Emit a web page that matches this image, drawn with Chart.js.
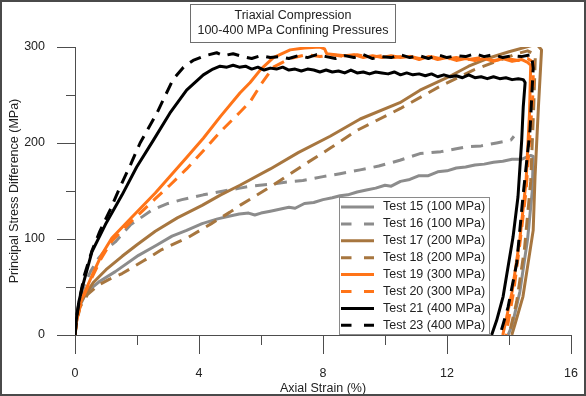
<!DOCTYPE html>
<html>
<head>
<meta charset="utf-8">
<script src="https://cdn.jsdelivr.net/npm/chart.js@4.4.1/dist/chart.umd.min.js"></script>
<style>
  html, body { margin: 0; padding: 0; background: #fff; }
  #wrap { width: 586px; height: 396px; }
</style>
</head>
<body>
<div id="wrap"><canvas id="triaxialChart" width="586" height="396"></canvas></div>
<script>
// strain (%) , stress difference (MPa)
const test15 = [[0,0],[0.05,14],[0.15,30],[0.3,40],[0.5,48],[0.8,56],[1.3,66],[2.05,83],[2.6,93],[3.13,103],[3.6,109],[4.1,116],[4.6,121],[5.0,124],[5.3,126],[5.6,127],[5.8,125],[6.0,127],[6.3,129],[6.6,131],[6.9,133],[7.1,132],[7.4,137],[7.7,138],[8.0,141],[8.3,143],[8.55,145],[8.8,146],[9.1,149],[9.4,151],[9.7,153],[10.0,156],[10.2,155],[10.5,160],[10.8,162],[11.1,166],[11.4,166],[11.7,170],[12.0,171],[12.3,174],[12.6,175],[12.9,177],[13.2,178],[13.5,180],[13.8,181],[14.1,183],[14.4,183],[14.7,187],[14.78,186],[14.75,150],[14.6,100],[14.35,45],[14.1,10],[13.97,0]];
const test16 = [[0,0],[0.05,16],[0.15,35],[0.3,52],[0.5,66],[0.76,80],[1.0,89],[1.3,97],[1.8,115],[2.48,130],[3.0,137],[3.45,141],[4.14,146],[4.8,150],[5.32,153],[5.65,155],[6.3,157],[7.0,160],[7.35,161],[8.0,165],[8.55,168],[9.2,172],[9.8,176],[10.48,182],[11.13,189],[11.8,191],[12.3,194],[12.63,196],[13.1,197],[13.6,200],[14.06,203],[14.16,207]];
const test17 = [[0,0],[0.05,16],[0.15,32],[0.33,42],[0.6,55],[1.0,68],[1.52,82],[2.0,94],[2.59,108],[3.3,122],[4.1,135],[4.7,146],[5.32,156],[6.3,173],[7.2,190],[8.23,207],[9.2,225],[10.48,242],[11.13,255],[12.0,268],[12.7,280],[13.3,288],[14.0,295],[14.89,303],[15.05,297],[14.95,238],[14.84,165],[14.78,109],[14.45,40],[14.2,12],[14.09,0]];
const test18 = [[0,0],[0.05,12],[0.16,29],[0.4,42],[0.76,52],[1.1,58],[1.52,64],[2.2,77],[2.8,89],[3.67,102],[4.4,116],[5.0,128],[5.32,135],[6.29,154],[7.47,179],[8.3,196],[9.09,213],[10.5,236],[11.77,259],[12.85,276],[13.6,285],[14.25,293],[14.6,296],[14.85,292],[14.8,240],[14.7,160],[14.5,90],[14.25,35],[14.0,0]];
const test19 = [[0,0],[0.05,14],[0.2,36],[0.55,62],[0.85,83],[1.19,101],[1.84,123],[2.59,148],[3.06,165],[3.6,185],[4.14,205],[4.7,228],[5.32,252],[5.65,263],[6.0,277],[6.4,289],[6.94,297],[7.4,299],[7.9,300],[8.05,298],[8.12,293],[8.4,292],[8.7,291],[9.0,292],[9.3,289],[9.6,291],[9.9,289],[10.2,291],[10.5,289],[10.8,290],[11.1,287],[11.4,290],[11.7,287],[12.0,289],[12.3,286],[12.6,288],[12.9,286],[13.2,288],[13.5,285],[13.8,288],[14.1,285],[14.4,287],[14.6,284],[14.7,281],[14.66,230],[14.55,160],[14.35,100],[14.1,45],[13.8,0]];
const test20 = [[0,0],[0.05,14],[0.2,35],[0.55,60],[0.85,80],[1.19,98],[1.84,119],[2.59,142],[3.06,156],[3.6,173],[4.14,192],[4.7,212],[5.32,232],[5.65,243],[6.02,262],[6.4,279],[6.94,288],[7.47,292],[7.9,290],[8.3,292],[8.7,290],[9.1,292],[9.5,289],[9.9,291],[10.3,289],[10.7,291],[11.1,288],[11.5,290],[11.9,287],[12.3,289],[12.7,287],[13.1,289],[13.5,286],[13.9,288],[14.3,286],[14.6,288],[14.78,284],[14.78,255],[14.68,210],[14.55,150],[14.35,95],[14.15,45],[13.9,0]];
const test21 = [[0,0],[0.05,18],[0.12,34],[0.23,49],[0.55,87],[0.98,115],[1.52,146],[1.99,175],[2.53,203],[3.06,231],[3.6,255],[4.14,271],[4.45,277],[4.68,280],[4.9,279],[5.1,281],[5.3,279],[5.5,280],[5.7,277],[5.9,279],[6.1,276],[6.3,278],[6.5,277],[6.7,279],[6.9,276],[7.1,277],[7.3,275],[7.5,277],[7.7,276],[7.9,274],[8.1,276],[8.3,274],[8.5,275],[8.7,273],[8.9,276],[9.1,273],[9.3,274],[9.5,272],[9.7,274],[9.9,273],[10.1,272],[10.3,274],[10.5,271],[10.7,273],[10.9,271],[11.1,272],[11.3,270],[11.5,272],[11.7,269],[11.9,271],[12.1,269],[12.3,270],[12.5,268],[12.7,271],[12.9,268],[13.1,269],[13.3,267],[13.5,269],[13.7,267],[13.9,268],[14.1,266],[14.3,267],[14.46,266],[14.52,263],[14.46,238],[14.41,203],[14.29,144],[14.13,102],[13.81,40],[13.6,15],[13.44,0]];
const test23 = [[0,0],[0.05,18],[0.15,38],[0.3,62],[0.55,88],[0.8,108],[1.13,130],[1.45,154],[1.8,178],[2.1,200],[2.64,231],[3.16,266],[3.5,279],[3.81,286],[4.2,291],[4.57,294],[4.8,291],[5.1,293],[5.42,290],[5.7,288],[6.0,291],[6.3,289],[6.6,290],[6.9,288],[7.2,291],[7.5,289],[7.8,292],[8.1,290],[8.4,288],[8.7,291],[9.0,289],[9.3,292],[9.6,288],[9.9,290],[10.2,289],[10.5,292],[10.8,289],[11.1,291],[11.4,288],[11.7,292],[12.0,289],[12.3,291],[12.6,290],[12.9,293],[13.2,290],[13.5,292],[13.8,289],[14.1,291],[14.4,290],[14.73,292],[14.78,278],[14.68,214],[14.45,144],[14.25,75],[13.97,29],[13.71,0]];

const testLabels = ['Test 15 (100 MPa)', 'Test 16 (100 MPa)', 'Test 17 (200 MPa)', 'Test 18 (200 MPa)',
                    'Test 19 (300 MPa)', 'Test 20 (300 MPa)', 'Test 21 (400 MPa)', 'Test 23 (400 MPa)'];
const testData = [test15, test16, test17, test18, test19, test20, test21, test23];
const xTicks = [0, 4, 8, 12, 16];
const yTicks = [0, 100, 200, 300];
const titleLines = ['Triaxial Compression', '100-400 MPa Confining Pressures'];

const GRAY = '#8c8c8c', BROWN = '#a7763f', ORANGE = '#ff7418', BLACK = '#000000';
const lineColors = [GRAY, GRAY, BROWN, BROWN, ORANGE, ORANGE, BLACK, BLACK];
const FONT = "'Liberation Sans', Arial, sans-serif";
const AXIS = '#4d4d4d';

const datasets = testData.map((pts, i) => ({
    label: testLabels[i],
    data: pts.map(p => ({ x: p[0], y: p[1] })),
    showLine: true,
    borderColor: lineColors[i],
    backgroundColor: lineColors[i],
    borderWidth: 3,
    borderDash: i % 2 ? [12, 8] : [],
    borderJoinStyle: 'round',
    pointRadius: 0,
    tension: 0,
    order: 8 - i
}));

// tick marks: long on labelled values, short between
const axisTicks = {
    id: 'axisTicks',
    afterDraw(chart) {
        const {ctx, scales: {x, y}} = chart;
        ctx.save();
        ctx.strokeStyle = AXIS;
        ctx.lineWidth = 1;
        ctx.beginPath();
        x.ticks.forEach(t => {
            const px = Math.round(x.getPixelForValue(t.value)) + 0.5;
            const len = xTicks.includes(t.value) ? 19 : 10;
            ctx.moveTo(px, x.top);
            ctx.lineTo(px, x.top + len);
        });
        y.ticks.forEach(t => {
            const py = Math.round(y.getPixelForValue(t.value)) + 0.5;
            const len = yTicks.includes(t.value) ? 18 : 9;
            ctx.moveTo(y.right, py);
            ctx.lineTo(y.right - len, py);
        });
        ctx.stroke();
        ctx.restore();
    }
};

const boxTitle = {
    id: 'boxTitle',
    afterDraw(chart) {
        const ctx = chart.ctx;
        ctx.save();
        ctx.font = '12.5px ' + FONT;
        const w = Math.max(...titleLines.map(t => ctx.measureText(t).width)) + 14;
        const cx = chart.width / 2;
        ctx.strokeStyle = '#6e6e6e';
        ctx.lineWidth = 1;
        ctx.strokeRect(Math.round(cx - w / 2) + 0.5, 4.5, Math.round(w), 38);
        ctx.fillStyle = '#222';
        ctx.textAlign = 'center';
        ctx.textBaseline = 'middle';
        ctx.fillText(titleLines[0], cx, 16);
        ctx.fillText(titleLines[1], cx, 31);
        ctx.restore();
    }
};

const boxLegend = {
    id: 'boxLegend',
    afterDraw(chart) {
        const {ctx, chartArea} = chart;
        const left = chartArea.right - 232, right = chartArea.right - 82;
        const bottom = chartArea.bottom - 1, top = bottom - 137;
        ctx.save();
        ctx.fillStyle = '#fff';
        ctx.fillRect(left, top, right - left, bottom - top);
        ctx.strokeStyle = '#8a8a8a';
        ctx.lineWidth = 1;
        ctx.strokeRect(left + 0.5, top + 0.5, right - left, bottom - top);
        ctx.font = '12.5px ' + FONT;
        ctx.textBaseline = 'middle';
        chart.data.datasets.forEach((ds, i) => {
            const yy = top + 10 + i * 16.9;
            ctx.strokeStyle = ds.borderColor;
            ctx.lineWidth = 3;
            ctx.setLineDash(ds.borderDash.length ? [10.5, 12.5] : []);
            ctx.beginPath();
            ctx.moveTo(left + 2, yy);
            ctx.lineTo(left + 35, yy);
            ctx.stroke();
            ctx.setLineDash([]);
            ctx.fillStyle = '#222';
            ctx.fillText(ds.label, left + 44, yy);
        });
        ctx.restore();
    }
};

const frame = {
    id: 'frame',
    afterDraw(chart) {
        const ctx = chart.ctx;
        ctx.save();
        ctx.strokeStyle = '#4a4a4a';
        ctx.lineWidth = 2;
        ctx.strokeRect(1, 1, chart.width - 2, chart.height - 2);
        ctx.restore();
    }
};

const ctx = document.getElementById('triaxialChart').getContext('2d');
const triaxialChart = new Chart(ctx, {
    type: 'scatter',
    data: { datasets: datasets },
    plugins: [axisTicks, boxTitle, boxLegend, frame],
    options: {
        responsive: false,
        animation: false,
        layout: { padding: { top: 47, right: 15, left: 0, bottom: 0 } },
        plugins: {
            legend: { display: false },
            tooltip: { enabled: false },
            title: { display: false }
        },
        scales: {
            x: {
                type: 'linear',
                min: 0,
                max: 16,
                afterFit: (s) => { s.height = 61; },
                border: { display: true, color: AXIS, width: 1 },
                // marks come from axisTicks; tickLength only spaces the labels
                grid: { display: false, drawTicks: true, tickLength: 27 },
                ticks: {
                    stepSize: 2,
                    padding: 4,
                    maxRotation: 0,
                    color: '#222',
                    font: { family: FONT, size: 12.5 },
                    callback: (v) => xTicks.includes(v) ? v : ''
                },
                title: {
                    display: true,
                    text: 'Axial Strain (%)',
                    color: '#222',
                    font: { family: FONT, size: 12.5 },
                    padding: { top: 0, bottom: 0 }
                }
            },
            y: {
                type: 'linear',
                min: 0,
                max: 300,
                afterFit: (s) => { s.width = 75; },
                border: { display: true, color: AXIS, width: 1 },
                grid: { display: false, drawTicks: true, tickLength: 26 },
                ticks: {
                    stepSize: 50,
                    padding: 4,
                    color: '#222',
                    font: { family: FONT, size: 12.5 },
                    callback: (v) => yTicks.includes(v) ? v : ''
                },
                title: {
                    display: true,
                    text: 'Principal Stress Difference (MPa)',
                    color: '#222',
                    font: { family: FONT, size: 12.5 },
                    padding: { top: 7, bottom: 0 }
                }
            }
        }
    }
});
</script>
</body>
</html>
